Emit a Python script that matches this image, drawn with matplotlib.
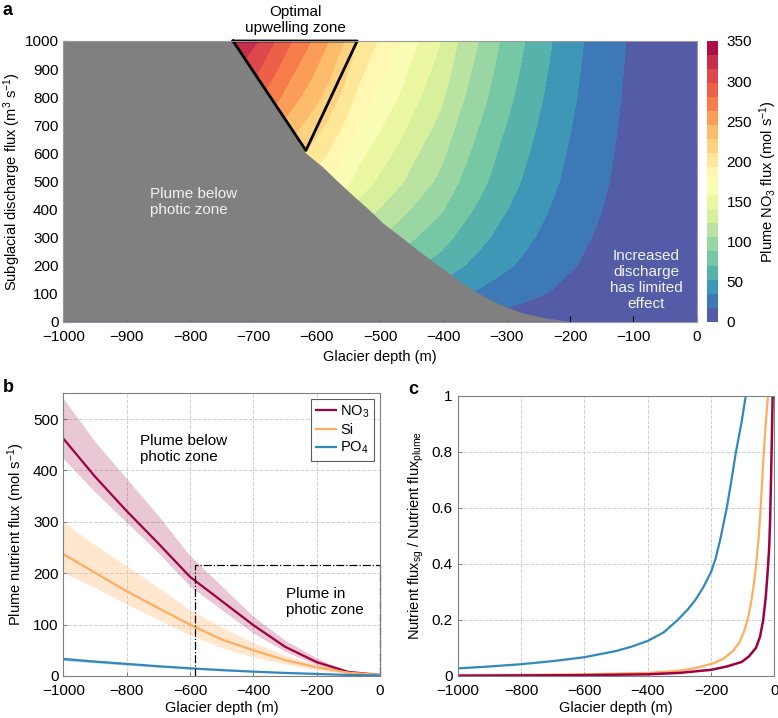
import matplotlib.pyplot as plt
import numpy as np

plt.rcParams['font.family'] = ['Liberation Sans', 'DejaVu Sans']
plt.rcParams['font.size'] = 10.5
plt.rcParams['xtick.labelsize'] = 11
plt.rcParams['ytick.labelsize'] = 11
plt.rcParams['mathtext.fontset'] = 'custom'
plt.rcParams['mathtext.rm'] = 'Liberation Sans'
plt.rcParams['mathtext.it'] = 'Liberation Sans:italic'

# panel a: NO3 flux along the top edge (Q = 1000) and relative change with discharge
depth_top = [-1000, -732, -693, -666, -639, -609, -581, -557, -536, -505, -472,
             -440, -404, -377, -345, -311, -271, -228, -178, -112, 0]
flux_top = [345, 336, 315, 297.5, 280, 262.5, 245, 227.5, 210, 192.5, 175,
            157.5, 140, 122.5, 105, 87.5, 70, 52.5, 35, 17.5, 2]
discharge = [0, 25, 50, 100, 200, 300, 400, 500, 600, 700, 800, 900, 1000]
discharge_factor = [0, 0.14, 0.21, 0.31, 0.45, 0.55, 0.64, 0.72, 0.78, 0.84, 0.90, 0.95, 1.0]

# edge of the "plume below photic zone" region
gray_depth = [-1000, -732, -617, -590, -567, -543, -518, -495, -466, -438, -408,
              -378, -345, -310, -275, -240, -201, -1000]
gray_q = [1000, 1000, 600, 550, 500, 450, 400, 350, 300, 250, 200,
          150, 100, 60, 30, 12, 0, 0]

tri_depth = [-732, -536, -617, -732]
tri_q = [1000, 1000, 610, 1000]

# panel b
depth_b = [-1000, -900, -800, -700, -600, -500, -400, -300, -200, -100, 0]
no3 = [462, 388, 321, 258, 193, 146, 99, 57, 27, 8, 2]
no3_hi = [540, 456, 384, 312, 234, 175, 116, 70, 35, 8.5, 2]
no3_lo = [423, 358, 299, 240, 175, 129, 83.5, 48, 21.5, 5, 1.5]
si = [237, 201, 165, 132, 100, 71, 50, 31, 17, 6.5, 2]
si_hi = [299, 255, 214, 172, 129, 95, 65, 40, 22, 8, 2]
si_lo = [201, 172, 140, 110, 80, 55, 37, 23, 12, 4, 1.5]
po4 = [33, 28, 23.5, 19, 15, 11.5, 8.5, 6, 4, 2, 1]
po4_hi = [37, 31, 26, 21, 17, 13, 9.5, 7, 4.5, 2.3, 1.1]
po4_lo = [30, 25.5, 21, 17, 13.5, 10, 7.5, 5, 3.5, 1.8, 0.9]
box_depth = [-585, -585, 0, 0]
box_flux = [0, 215, 215, 0]

# panel c
po4_c_depth = [-1000, -900, -800, -700, -600, -500, -450, -400, -350, -305, -275, -250,
               -225, -200, -185, -170, -150, -135, -121, -104, -90]
po4_c = [0.027, 0.034, 0.042, 0.053, 0.067, 0.089, 0.105, 0.125, 0.155, 0.2, 0.235, 0.27,
         0.315, 0.37, 0.42, 0.49, 0.6, 0.7, 0.8, 0.9, 1.0]
si_c_depth = [-1000, -800, -600, -400, -300, -250, -193, -160, -130, -110, -95, -82,
              -72, -63, -56, -49, -43, -38, -33, -27, -20]
si_c = [0.003, 0.004, 0.006, 0.011, 0.019, 0.028, 0.045, 0.062, 0.09, 0.12, 0.16, 0.21,
        0.27, 0.34, 0.41, 0.5, 0.6, 0.7, 0.8, 0.9, 1.0]
no3_c_depth = [-1000, -800, -600, -400, -300, -200, -150, -103, -80, -58, -45, -35,
               -27, -21, -16, -13, -11, -9, -7, -5]
no3_c = [0.001, 0.002, 0.003, 0.006, 0.011, 0.022, 0.034, 0.05, 0.07, 0.1, 0.14, 0.2,
         0.28, 0.37, 0.46, 0.56, 0.66, 0.77, 0.88, 1.0]

c_no3 = '#9e0142'
c_si = '#fdae61'
c_po4 = '#3288bd'
gray = '#808080'

fig = plt.figure(figsize=(7.78, 7.18), dpi=100)

# ---- a ----
ax = fig.add_axes([0.0814, 0.552, 0.8141, 0.3909])
Z = np.outer(discharge_factor, flux_top)
levels = np.arange(0, 350.1, 17.5)
cf = ax.contourf(depth_top, discharge, Z, levels=levels, cmap='Spectral_r')
ax.fill(gray_depth, gray_q, color=gray, lw=0, zorder=3)
ax.plot(tri_depth, tri_q, color='k', lw=2, zorder=4, clip_on=False)
ax.set_xlim(-1000, 0)
ax.set_ylim(0, 1000)
ax.set_xticks(range(-1000, 1, 100))
ax.set_yticks(range(0, 1001, 100))
ax.tick_params(direction='in', length=4, top=False, right=False)
ax.tick_params(axis='x', pad=6)
for s in ax.spines.values():
    s.set_color('#999999')
    s.set_linewidth(0.8)
    s.set_zorder(5)
ax.set_xlabel('Glacier depth (m)')
ax.set_ylabel('Subglacial discharge flux (m$^3$ s$^{-1}$)')
ax.yaxis.set_label_coords(-0.064, 0.5)
ax.text(-634, 1075, 'Optimal\nupwelling zone', ha='center', va='center',
        fontsize=11, clip_on=False)
ax.text(-863, 427, 'Plume below\nphotic zone', color='#f2f2f2', ha='left', va='center',
        fontsize=11, zorder=6)
ax.text(-80, 149, 'Increased\ndischarge\nhas limited\neffect', color='#f2f2f2',
        ha='center', va='center', fontsize=11, zorder=6)

cax = fig.add_axes([0.9091, 0.552, 0.0141, 0.3909])
cb = fig.colorbar(cf, cax=cax, ticks=range(0, 351, 50))
cb.outline.set_visible(False)
cax.tick_params(length=0, pad=6)
cb.set_label('Plume NO$_3$ flux (mol s$^{-1}$)', labelpad=4)

fig.text(0.003, 0.985, 'a', fontsize=13, fontweight='bold', va='center')

# ---- b ----
axb = fig.add_axes([0.0814, 0.0585, 0.407, 0.3937])
axb.fill_between(depth_b, no3_lo, no3_hi, color=c_no3, alpha=0.22, lw=0)
axb.fill_between(depth_b, si_lo, si_hi, color=c_si, alpha=0.3, lw=0)
axb.fill_between(depth_b, po4_lo, po4_hi, color=c_po4, alpha=0.3, lw=0)
axb.plot(depth_b, no3, color=c_no3, lw=1.6, label='NO$_3$')
axb.plot(depth_b, si, color=c_si, lw=1.6, label='Si')
axb.plot(depth_b, po4, color=c_po4, lw=1.6, label='PO$_4$')
axb.plot(box_depth, box_flux, color='k', ls='-.', lw=0.9, clip_on=False)
axb.set_xlim(-1000, 0)
axb.set_ylim(0, 550)
axb.set_xticks(range(-1000, 1, 200))
axb.set_yticks(range(0, 501, 100))
axb.grid(True, ls='--', color='#d0d0d0', lw=0.7)
axb.set_axisbelow(True)
axb.tick_params(direction='in', length=3, color='#808080')
axb.tick_params(axis='x', pad=6)
for s in axb.spines.values():
    s.set_color('#808080')
axb.set_xlabel('Glacier depth (m)', labelpad=2)
axb.set_ylabel('Plume nutrient flux (mol s$^{-1}$)')
axb.text(-758, 442, 'Plume below\nphotic zone', ha='left', va='center', fontsize=11)
axb.text(-297, 144, 'Plume in\nphotic zone', ha='left', va='center', fontsize=11)
leg = axb.legend(loc='upper right', fancybox=False, edgecolor='#333333',
                 handlelength=1.4, handletextpad=0.3, borderpad=0.3,
                 labelspacing=0.2, borderaxespad=0.4)
leg.get_frame().set_linewidth(0.8)

fig.text(0.003, 0.46, 'b', fontsize=13, fontweight='bold', va='center')

# ---- c ----
axc = fig.add_axes([0.5883, 0.0585, 0.4069, 0.3904])
axc.plot(po4_c_depth, po4_c, color=c_po4, lw=1.6)
axc.plot(si_c_depth, si_c, color=c_si, lw=1.6)
axc.plot(no3_c_depth, no3_c, color=c_no3, lw=1.8)
axc.set_xlim(-1000, 0)
axc.set_ylim(0, 1)
axc.set_xticks(range(-1000, 1, 200))
axc.set_yticks([0, 0.2, 0.4, 0.6, 0.8, 1])
axc.set_yticklabels(['0', '0.2', '0.4', '0.6', '0.8', '1'])
axc.grid(True, ls='--', color='#d0d0d0', lw=0.7)
axc.set_axisbelow(True)
axc.tick_params(direction='in', length=3, color='#808080')
axc.tick_params(axis='x', pad=6)
for s in axc.spines.values():
    s.set_color('#808080')
axc.set_xlabel('Glacier depth (m)', labelpad=2)
axc.set_ylabel('Nutrient flux$_{\\rm sg}$ / Nutrient flux$_{\\rm plume}$')

fig.text(0.525, 0.457, 'c', fontsize=13, fontweight='bold', va='center')

fig.savefig('out.png', dpi=100)
